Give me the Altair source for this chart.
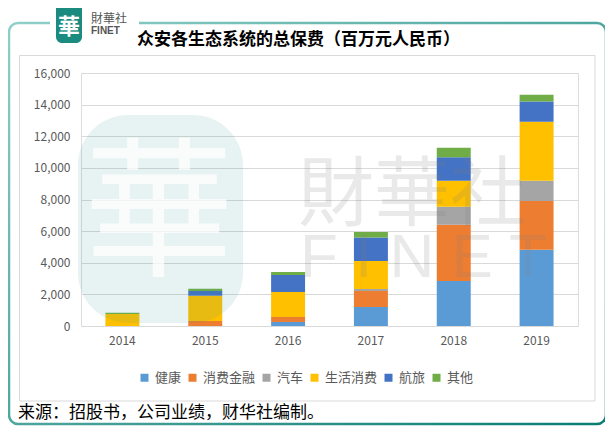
import altair as alt
import pandas as pd

years = ["2014", "2015", "2016", "2017", "2018", "2019"]
categories = ["健康", "消费金融", "汽车", "生活消费", "航旅", "其他"]
colors = ["#5b9bd5", "#ed7d31", "#a5a5a5", "#ffc000", "#4472c4", "#70ad47"]
health = [0, 0, 250, 1200, 2850, 4830]
consumer_finance = [0, 320, 320, 1010, 3550, 3080]
auto = [0, 0, 0, 130, 1140, 1270]
lifestyle = [760, 1600, 1580, 1770, 1650, 3740]
travel = [0, 300, 1080, 1480, 1480, 1270]
other = [80, 130, 190, 360, 610, 440]
y_ticks = [0, 2000, 4000, 6000, 8000, 10000, 12000, 14000, 16000]
title_text = "众安各生态系统的总保费（百万元人民币）"
source_text = "来源：招股书，公司业绩，财华社编制。"

FONT = "Noto Sans CJK SC"
series = [health, consumer_finance, auto, lifestyle, travel, other]
rows = []
for ci, (cat, vals) in enumerate(zip(categories, series)):
    for y, v in zip(years, vals):
        rows.append({"year": y, "cat": cat, "value": v, "idx": ci})
df = pd.DataFrame(rows)

one = alt.Data(values=[{"k": 1}])

bars = alt.Chart(df).mark_bar().encode(
    x=alt.X("year:N", sort=years,
            scale=alt.Scale(paddingInner=0.59, paddingOuter=0.295),
            axis=alt.Axis(title=None, labelAngle=0, domain=False, ticks=False,
                          labelPadding=9, labelFontSize=12, labelColor="#595959",
                          labelFont=FONT, grid=False)),
    y=alt.Y("value:Q", stack="zero",
            scale=alt.Scale(domain=[0, 16000], nice=False),
            axis=alt.Axis(values=y_ticks, format=",.0f", title=None, domain=False,
                          ticks=False, tickSize=0, labelPadding=11, gridColor="#d9d9d9",
                          labelFontSize=12, labelColor="#595959", labelFont=FONT)),
    color=alt.Color("cat:N", sort=categories,
                    scale=alt.Scale(domain=categories, range=colors),
                    legend=alt.Legend(title=None, orient="none", legendX=57, legendY=298,
                                      direction="horizontal", symbolType="square",
                                      symbolSize=64, symbolStrokeWidth=0,
                                      labelFontSize=13, labelColor="#595959",
                                      labelFont=FONT, labelOffset=4, columnPadding=4)),
    order=alt.Order("idx:Q", sort="ascending"),
)

grad = alt.LinearGradient(
    gradient="linear",
    stops=[alt.GradientStop(color="#8fd0c9", offset=0),
           alt.GradientStop(color="#0b7d73", offset=1)],
    x1=0, y1=0, x2=1, y2=1)

border = alt.Chart(one).mark_rect(cornerRadius=9, fillOpacity=0, stroke=grad,
                                  strokeWidth=2.5).encode(
    x=alt.value(-72), x2=alt.value(525), y=alt.value(-50), y2=alt.value(351))
cover = alt.Chart(one).mark_rect(color="white").encode(
    x=alt.value(-31), x2=alt.value(58), y=alt.value(-54), y2=alt.value(-46))
inner_box = alt.Chart(one).mark_rect(fillOpacity=0, stroke="#d9d9d9",
                                     strokeWidth=1).encode(
    x=alt.value(-61.5), x2=alt.value(514), y=alt.value(-17.5), y2=alt.value(328))
logo_rect = alt.Chart(one).mark_rect(color="#1b8a7f", cornerRadius=6).encode(
    x=alt.value(-25), x2=alt.value(1), y=alt.value(-70), y2=alt.value(-30))
logo_char = alt.Chart(one).mark_text(text="華", font=FONT, fontSize=22,
                                     fontWeight="bold", color="white").encode(
    x=alt.value(-12), y=alt.value(-46))
logo_t1 = alt.Chart(one).mark_text(text="財華社", font=FONT, fontSize=12,
                                   color="#555555", align="left").encode(
    x=alt.value(10), y=alt.value(-54))
logo_t2 = alt.Chart(one).mark_text(text="FINET", font="Liberation Sans", fontSize=10,
                                   fontWeight="bold", color="#555555",
                                   align="left").encode(
    x=alt.value(10), y=alt.value(-42))
title = alt.Chart(one).mark_text(text=title_text, font=FONT, fontSize=17,
                                 fontWeight="bold", color="#000000",
                                 align="left").encode(
    x=alt.value(56), y=alt.value(-33))
footer = alt.Chart(one).mark_text(text=source_text, font=FONT, fontSize=17,
                                  color="#000000", align="left").encode(
    x=alt.value(-63), y=alt.value(340))

blob = alt.Chart(one).mark_rect(color="#3a9a90", opacity=0.12,
                                cornerRadius=50).encode(
    x=alt.value(-3), x2=alt.value(162), y=alt.value(42), y2=alt.value(250))
blob_char = alt.Chart(one).mark_text(text="華", font=FONT, fontSize=150,
                                     color="white", opacity=0.75).encode(
    x=alt.value(78), y=alt.value(146))
wm1 = alt.Chart(one).mark_text(text="財華社", font=FONT, fontSize=76,
                               color="#808080", opacity=0.17, align="left").encode(
    x=alt.value(217), y=alt.value(124))
wm2 = alt.Chart(one).mark_text(text="F  I  N  E  T", font="Liberation Sans",
                               fontSize=62, color="#808080", opacity=0.17,
                               align="left").encode(
    x=alt.value(219), y=alt.value(185))

chart = alt.layer(
    border, cover, inner_box, logo_rect, logo_char, logo_t1, logo_t2, title,
    footer, bars, blob, blob_char, wm1, wm2
).properties(
    width=497, height=253,
    padding={"left": 73, "top": 65, "right": 27, "bottom": 100},
    autosize=alt.AutoSizeParams(type="none"),
).configure_view(stroke=None).configure(background="white")

chart.save("out.html", embed_options={"renderer": "svg", "actions": False})
